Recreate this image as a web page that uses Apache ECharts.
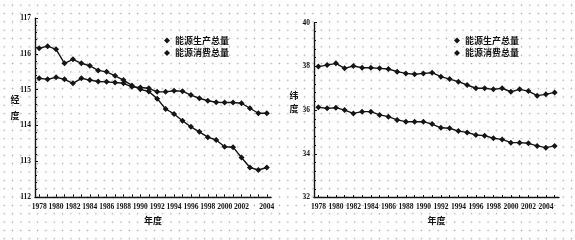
<!DOCTYPE html>
<html>
<head>
<meta charset="utf-8">
<script src="https://cdn.jsdelivr.net/npm/echarts@6/dist/echarts.min.js"></script>
<style>
html,body{margin:0;padding:0;width:575px;height:240px;overflow:hidden;
background-color:#fff;
background-image:radial-gradient(circle at 50% 50%, #b0b0b0 0, #b0b0b0 0.6px, rgba(255,255,255,0) 1.1px);
background-size:8.35px 8.35px;background-position:0px 1px;}
#c{width:575px;height:240px;}
</style>
</head>
<body>
<div id="c"></div>
<script>
const years = ['1978','1979','1980','1981','1982','1983','1984','1985','1986','1987','1988','1989','1990','1991',
  '1992','1993','1994','1995','1996','1997','1998','1999','2000','2001','2002','2003','2004','2005'];

const leftTickLabels = ['1978','','1980','','1982','','1984','','1986','','1988','','1990','','1992','','1994','',
  '1996','','1998','','2000','','2002','','','2004'];
const rightTickLabels = ['1978','','1980','','1982','','1984','','1986','','1988','','1990','','1992','','1994','',
  '1996','','1998','','2000','','2002','','2004',''];

const seriesNames = ['能源生产总量', '能源消费总量'];
const leftYName = '经\n度';
const rightYName = '纬\n度';
const xName = '年度';

// 经度 (longitude of gravity centre)
const lonProduction = [116.16,116.22,116.13,115.74,115.85,115.74,115.67,115.54,115.50,115.39,115.27,115.12,115.01,114.95,
  114.75,114.46,114.32,114.13,113.96,113.82,113.67,113.59,113.40,113.39,113.10,112.82,112.75,112.82];
const lonConsumption = [115.32,115.29,115.35,115.29,115.18,115.32,115.27,115.23,115.22,115.20,115.18,115.08,115.06,115.04,
  114.94,114.94,114.97,114.96,114.85,114.76,114.69,114.65,114.64,114.64,114.62,114.48,114.34,114.34];

// 纬度 (latitude of gravity centre)
const latProduction = [37.99,38.06,38.14,37.91,38.02,37.94,37.94,37.91,37.88,37.76,37.68,37.64,37.68,37.71,
  37.53,37.42,37.30,37.15,37.00,37.00,36.95,37.00,36.84,36.95,36.87,36.66,36.72,36.81];
const latConsumption = [36.13,36.08,36.11,36.00,35.85,35.93,35.93,35.78,35.70,35.55,35.47,35.47,35.47,35.36,
  35.19,35.17,35.04,34.98,34.86,34.83,34.71,34.66,34.51,34.51,34.48,34.36,34.28,34.36];

const leftYTicks = {min:112, max:117, interval:1};
const rightYTicks = {min:32, max:40, interval:2};

const ink = '#151515';
const serif = 'Liberation Serif';
const cjk = 'Noto Sans CJK SC';

function xAxisCfg(gridIndex, labels, nameGap) {
  return {
    type:'category', gridIndex, data:years, boundaryGap:true,
    axisLine:{lineStyle:{color:ink,width:1.4}},
    axisTick:{show:true,inside:true,length:2.5,interval:0,alignWithLabel:true,lineStyle:{color:ink,width:1}},
    axisLabel:{interval:0,margin:6,fontSize:7.5,fontFamily:serif,color:ink,fontWeight:'bold',
      formatter:(v,i)=>labels[i]},
    splitLine:{show:false},
    name:xName, nameLocation:'middle', nameGap,
    nameTextStyle:{fontFamily:cjk,fontSize:9,color:ink,fontWeight:'bold'}
  };
}
function yAxisCfg(gridIndex, t) {
  return {
    type:'value', gridIndex, min:t.min, max:t.max, interval:t.interval,
    axisLine:{show:true,lineStyle:{color:ink,width:1.4}},
    axisTick:{show:true,inside:true,length:3,lineStyle:{color:ink,width:1}},
    minorTick:{show:true,splitNumber:5,length:2,lineStyle:{color:ink,width:1}},
    axisLabel:{margin:4,fontSize:7.5,fontFamily:serif,color:ink,fontWeight:'bold'},
    splitLine:{show:false}
  };
}
function lineSeries(name, data, idx) {
  return {
    type:'line', name, data, xAxisIndex:idx, yAxisIndex:idx,
    symbol:'diamond', symbolSize:6, showSymbol:true,
    lineStyle:{color:ink,width:1.4}, itemStyle:{color:ink},
    emphasis:{disabled:true}, animation:false
  };
}
function legendCfg(left) {
  return {
    data:seriesNames, orient:'vertical', left, top:31, itemGap:3.5,
    icon:'diamond', itemWidth:6, itemHeight:6,
    textStyle:{fontFamily:cjk,fontSize:9,color:ink,fontWeight:'bold'},
    selectedMode:false
  };
}
function yNameText(text, left, top, lh) {
  return {type:'text', left, top, silent:true,
    style:{text, fill:ink, font:'bold 9px "Noto Sans CJK SC"', lineHeight:lh}};
}

const chart = echarts.init(document.getElementById('c'), null, {renderer:'canvas'});
chart.setOption({
  backgroundColor:'transparent',
  animation:false,
  grid:[
    {left:35, top:18.3, width:236, height:178.5},
    {left:314, top:22.7, width:245, height:174.8}
  ],
  legend:[legendCfg(159), legendCfg(449)],
  xAxis:[xAxisCfg(0, leftTickLabels, 16), xAxisCfg(1, rightTickLabels, 13)],
  yAxis:[yAxisCfg(0, leftYTicks), yAxisCfg(1, rightYTicks)],
  graphic:[
    yNameText(leftYName, 10.5, 92, 16),
    yNameText(rightYName, 289.5, 89.5, 13)
  ],
  series:[
    lineSeries(seriesNames[0], lonProduction, 0),
    lineSeries(seriesNames[1], lonConsumption, 0),
    lineSeries(seriesNames[0], latProduction, 1),
    lineSeries(seriesNames[1], latConsumption, 1)
  ]
});
</script>
</body>
</html>
